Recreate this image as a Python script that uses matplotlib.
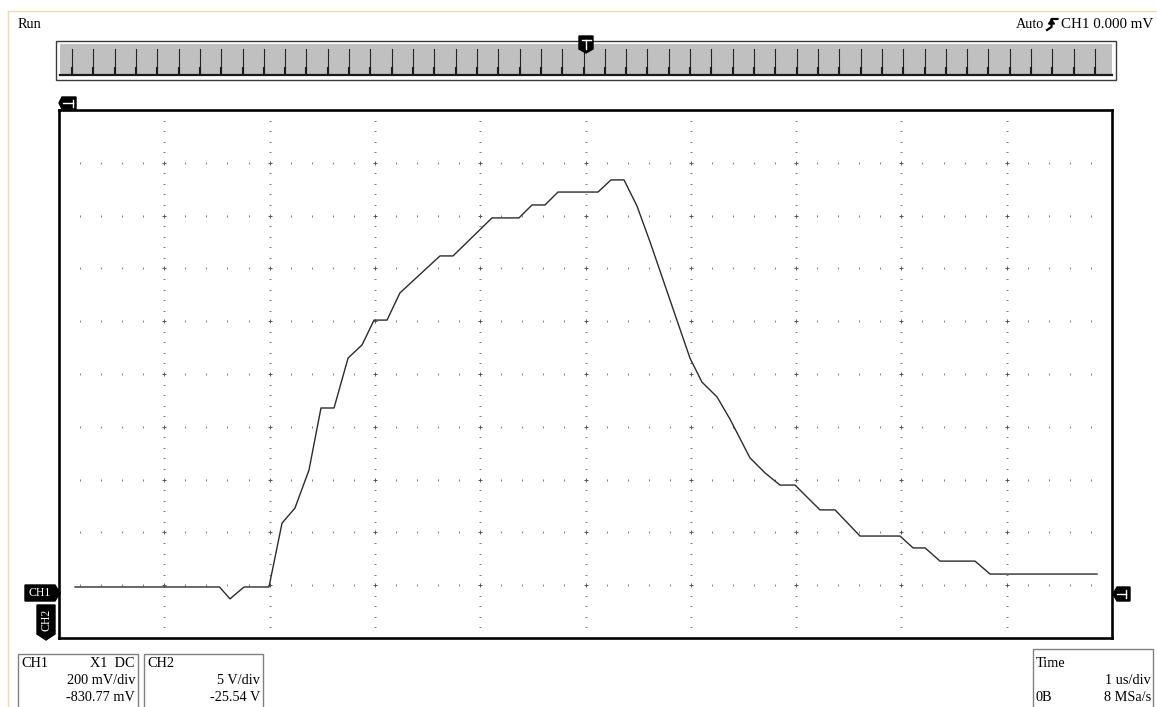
import numpy as np
import matplotlib
matplotlib.use("Agg")
import matplotlib.pyplot as plt
from matplotlib.patches import Polygon, Rectangle

# ---------------- data (time in us, CH1 voltage in mV) ----------------
time_us = [-4.848, -3.476, -3.376, -3.243, -3.006, -2.882, -2.759, -2.626, -2.512,
           -2.388, -2.255, -2.122, -2.008, -1.885, -1.762, -1.382, -1.258, -0.888,
           -0.632, -0.508, -0.385, -0.261, 0.119, 0.242, 0.366, 0.489, 0.613, 0.992,
           1.106, 1.249, 1.372, 1.562, 1.705, 1.847, 1.990, 2.113, 2.227, 2.370,
           2.607, 2.987, 3.111, 3.225, 3.367, 3.699, 3.842, 4.858]
ch1_mV = [24, 24, -21, 24, 24, 266, 323, 467, 702,
          702, 891, 941, 1035, 1035, 1138, 1278, 1278, 1422,
          1422, 1471, 1471, 1520, 1520, 1566, 1566, 1467, 1331, 891,
          800, 744, 660, 513, 456, 410, 410, 361, 316, 316,
          217, 217, 172, 172, 122, 122, 73, 73]

ch1_scale_mV = 200.0      # mV/div
ch1_center_mV = 830.77    # screen centre value
time_div_us = 1.0
n_hdiv = 10
n_vdiv = 10

run_label = "Run"
trigger_label = "CH1 0.000 mV"
ch1_info = ["CH1", "X1  DC", "200 mV/div", "-830.77 mV"]
ch2_info = ["CH2", "5 V/div", "-25.54 V"]
time_info = ["Time", "1 us/div", "0B", "8 MSa/s"]

W, H = 1157, 707
fig = plt.figure(figsize=(W / 100, H / 100), dpi=100)
fig.patch.set_facecolor("white")
SERIF = "Liberation Serif"
fs = 10.3

def fx(x):
    return x / W

def fy(y):
    return 1 - y / H

# background/decoration axes in pixel coordinates
bg = fig.add_axes([0, 0, 1, 1], zorder=0)
bg.set_xlim(0, W)
bg.set_ylim(H, 0)
bg.axis("off")

# tan border
bg.plot([8, W], [11, 11], color="#f0d9ac", lw=1.0)
bg.plot([8, 8], [11, H], color="#f0d9ac", lw=1.0)

bg.text(18, 28, run_label, family=SERIF, fontsize=fs, va="baseline", ha="left")
bg.text(1153, 28, trigger_label, family=SERIF, fontsize=10.8, va="baseline", ha="right")
bg.text(1044, 28, "Auto", family=SERIF, fontsize=fs, va="baseline", ha="right")
# rising edge trigger symbol
sx = 1047
bg.plot([sx, sx + 4.5, sx + 4.5, sx + 10.5], [30, 27, 19, 19], color="black", lw=1.6)
bg.add_patch(Polygon([[sx + 1.5, 24], [sx + 7.5, 24], [sx + 4.5, 19.5]], closed=True, color="black"))

# top timebase bar
bg.add_patch(Rectangle((56, 41), 1060, 39, facecolor="white", edgecolor="#3a3a3a", lw=1.0))
bg.add_patch(Rectangle((60, 44), 1052, 32, facecolor="#c0c0c0", edgecolor="none"))
bg.plot([60, 1112], [74.5, 74.5], color="#1a1a1a", lw=1.6)
for k in range(49):
    xk = 72 + k * (1095 - 72) / 48
    bg.plot([xk, xk], [49, 74], color="#222222", lw=0.8)
    bg.plot([xk, xk], [68, 74], color="#1a1a1a", lw=1.5)

# main screen axes
L, R, T, B = 59, 1112, 110, 638
ax = fig.add_axes([fx(L), fy(B), (R - L) / W, (B - T) / H], zorder=1)
ax.set_facecolor("white")
half_t = n_hdiv / 2 * time_div_us
ax.set_xlim(-half_t, half_t)
ax.set_ylim(ch1_center_mV - n_vdiv / 2 * ch1_scale_mV, ch1_center_mV + n_vdiv / 2 * ch1_scale_mV)
ax.set_xticks([])
ax.set_yticks([])
for s in ax.spines.values():
    s.set_linewidth(1.9)
    s.set_color("black")

gcol = "#7a7a7a"
vmin, vmax = ax.get_ylim()
vgrid_x = [k * time_div_us for k in range(-4, 5)]
hgrid_y = [ch1_center_mV + k * ch1_scale_mV for k in range(-4, 5)]
v_sub = np.arange(vmin + ch1_scale_mV / 5, vmax - 1e-6, ch1_scale_mV / 5)
t_sub = np.arange(-half_t + time_div_us / 5, half_t - 1e-6, time_div_us / 5)
for xv in vgrid_x:
    pts = [v for v in v_sub if min(abs(v - h) for h in hgrid_y) > 1]
    ax.plot([xv] * len(pts), pts, ls="none", marker="_", ms=2.0, mew=0.7, color=gcol)
for yh in hgrid_y:
    pts = [t for t in t_sub if min(abs(t - v) for v in vgrid_x) > 1e-3]
    ax.plot(pts, [yh] * len(pts), ls="none", marker="|", ms=2.0, mew=0.7, color=gcol)
for xv in vgrid_x:
    ax.plot([xv] * len(hgrid_y), hgrid_y, ls="none", marker="+", ms=3.0, mew=0.7, color="#555555")

ax.plot(time_us, ch1_mV, color="#2b2b2b", lw=1.0, solid_joinstyle="round")

# overlay axes for markers and info boxes
ov = fig.add_axes([0, 0, 1, 1], zorder=2)
ov.set_xlim(0, W)
ov.set_ylim(H, 0)
ov.axis("off")
ov.patch.set_alpha(0)

# trigger position marker (top)
ov.add_patch(Polygon([[579, 36], [593, 36], [593, 49], [586, 53], [579, 49]], closed=True, color="black"))
ov.plot([581.5, 590.5], [39.5, 39.5], color="white", lw=1.0)
ov.plot([586, 586], [39.5, 49], color="white", lw=1.0)

# left top marker
ov.add_patch(Polygon([[59, 103], [62, 97], [76, 97], [76, 109], [62, 109]], closed=True, color="black"))
ov.plot([63, 73], [103, 103], color="white", lw=1.0)
ov.plot([73, 73], [99.5, 106.5], color="white", lw=1.0)

# right trigger level marker
ov.add_patch(Polygon([[1113, 594], [1117, 587], [1130, 587], [1130, 601], [1117, 601]], closed=True, color="black"))
ov.plot([1117, 1126], [594, 594], color="white", lw=1.0)
ov.plot([1126, 1126], [590, 598], color="white", lw=1.0)

# CH1 marker
ov.add_patch(Polygon([[25, 585], [55, 585], [60, 593], [55, 601], [25, 601]], closed=True, color="black"))
ov.text(40, 593.5, "CH1", family=SERIF, fontsize=8.5, color="white", ha="center", va="center")
# CH2 marker
ov.add_patch(Polygon([[37, 605], [55, 605], [55, 634], [46, 640], [37, 634]], closed=True, color="black"))
ov.text(46, 620, "CH2", family=SERIF, fontsize=8.5, color="white", ha="center", va="center", rotation=90)

# info boxes
bcol = "#808080"
ov.add_patch(Rectangle((18, 654), 120, 60, facecolor="white", edgecolor=bcol, lw=1.0))
ov.add_patch(Rectangle((144, 654), 119, 60, facecolor="white", edgecolor=bcol, lw=1.0))
ov.add_patch(Rectangle((1033, 649), 120, 65, facecolor="white", edgecolor=bcol, lw=1.0))
ov.text(21, 667, ch1_info[0], family=SERIF, fontsize=fs, ha="left", va="baseline")
ov.text(135, 667, ch1_info[1], family=SERIF, fontsize=fs, ha="right", va="baseline")
ov.text(135, 684, ch1_info[2], family=SERIF, fontsize=fs, ha="right", va="baseline")
ov.text(135, 701, ch1_info[3], family=SERIF, fontsize=fs, ha="right", va="baseline")
ov.text(147, 667, ch2_info[0], family=SERIF, fontsize=fs, ha="left", va="baseline")
ov.text(260, 684, ch2_info[1], family=SERIF, fontsize=fs, ha="right", va="baseline")
ov.text(260, 701, ch2_info[2], family=SERIF, fontsize=fs, ha="right", va="baseline")
ov.text(1036, 667, time_info[0], family=SERIF, fontsize=fs, ha="left", va="baseline")
ov.text(1151, 684, time_info[1], family=SERIF, fontsize=fs, ha="right", va="baseline")
ov.text(1036, 701, time_info[2], family=SERIF, fontsize=fs, ha="left", va="baseline")
ov.text(1151, 701, time_info[3], family=SERIF, fontsize=fs, ha="right", va="baseline")

fig.savefig("out.png", dpi=100, facecolor="white")
